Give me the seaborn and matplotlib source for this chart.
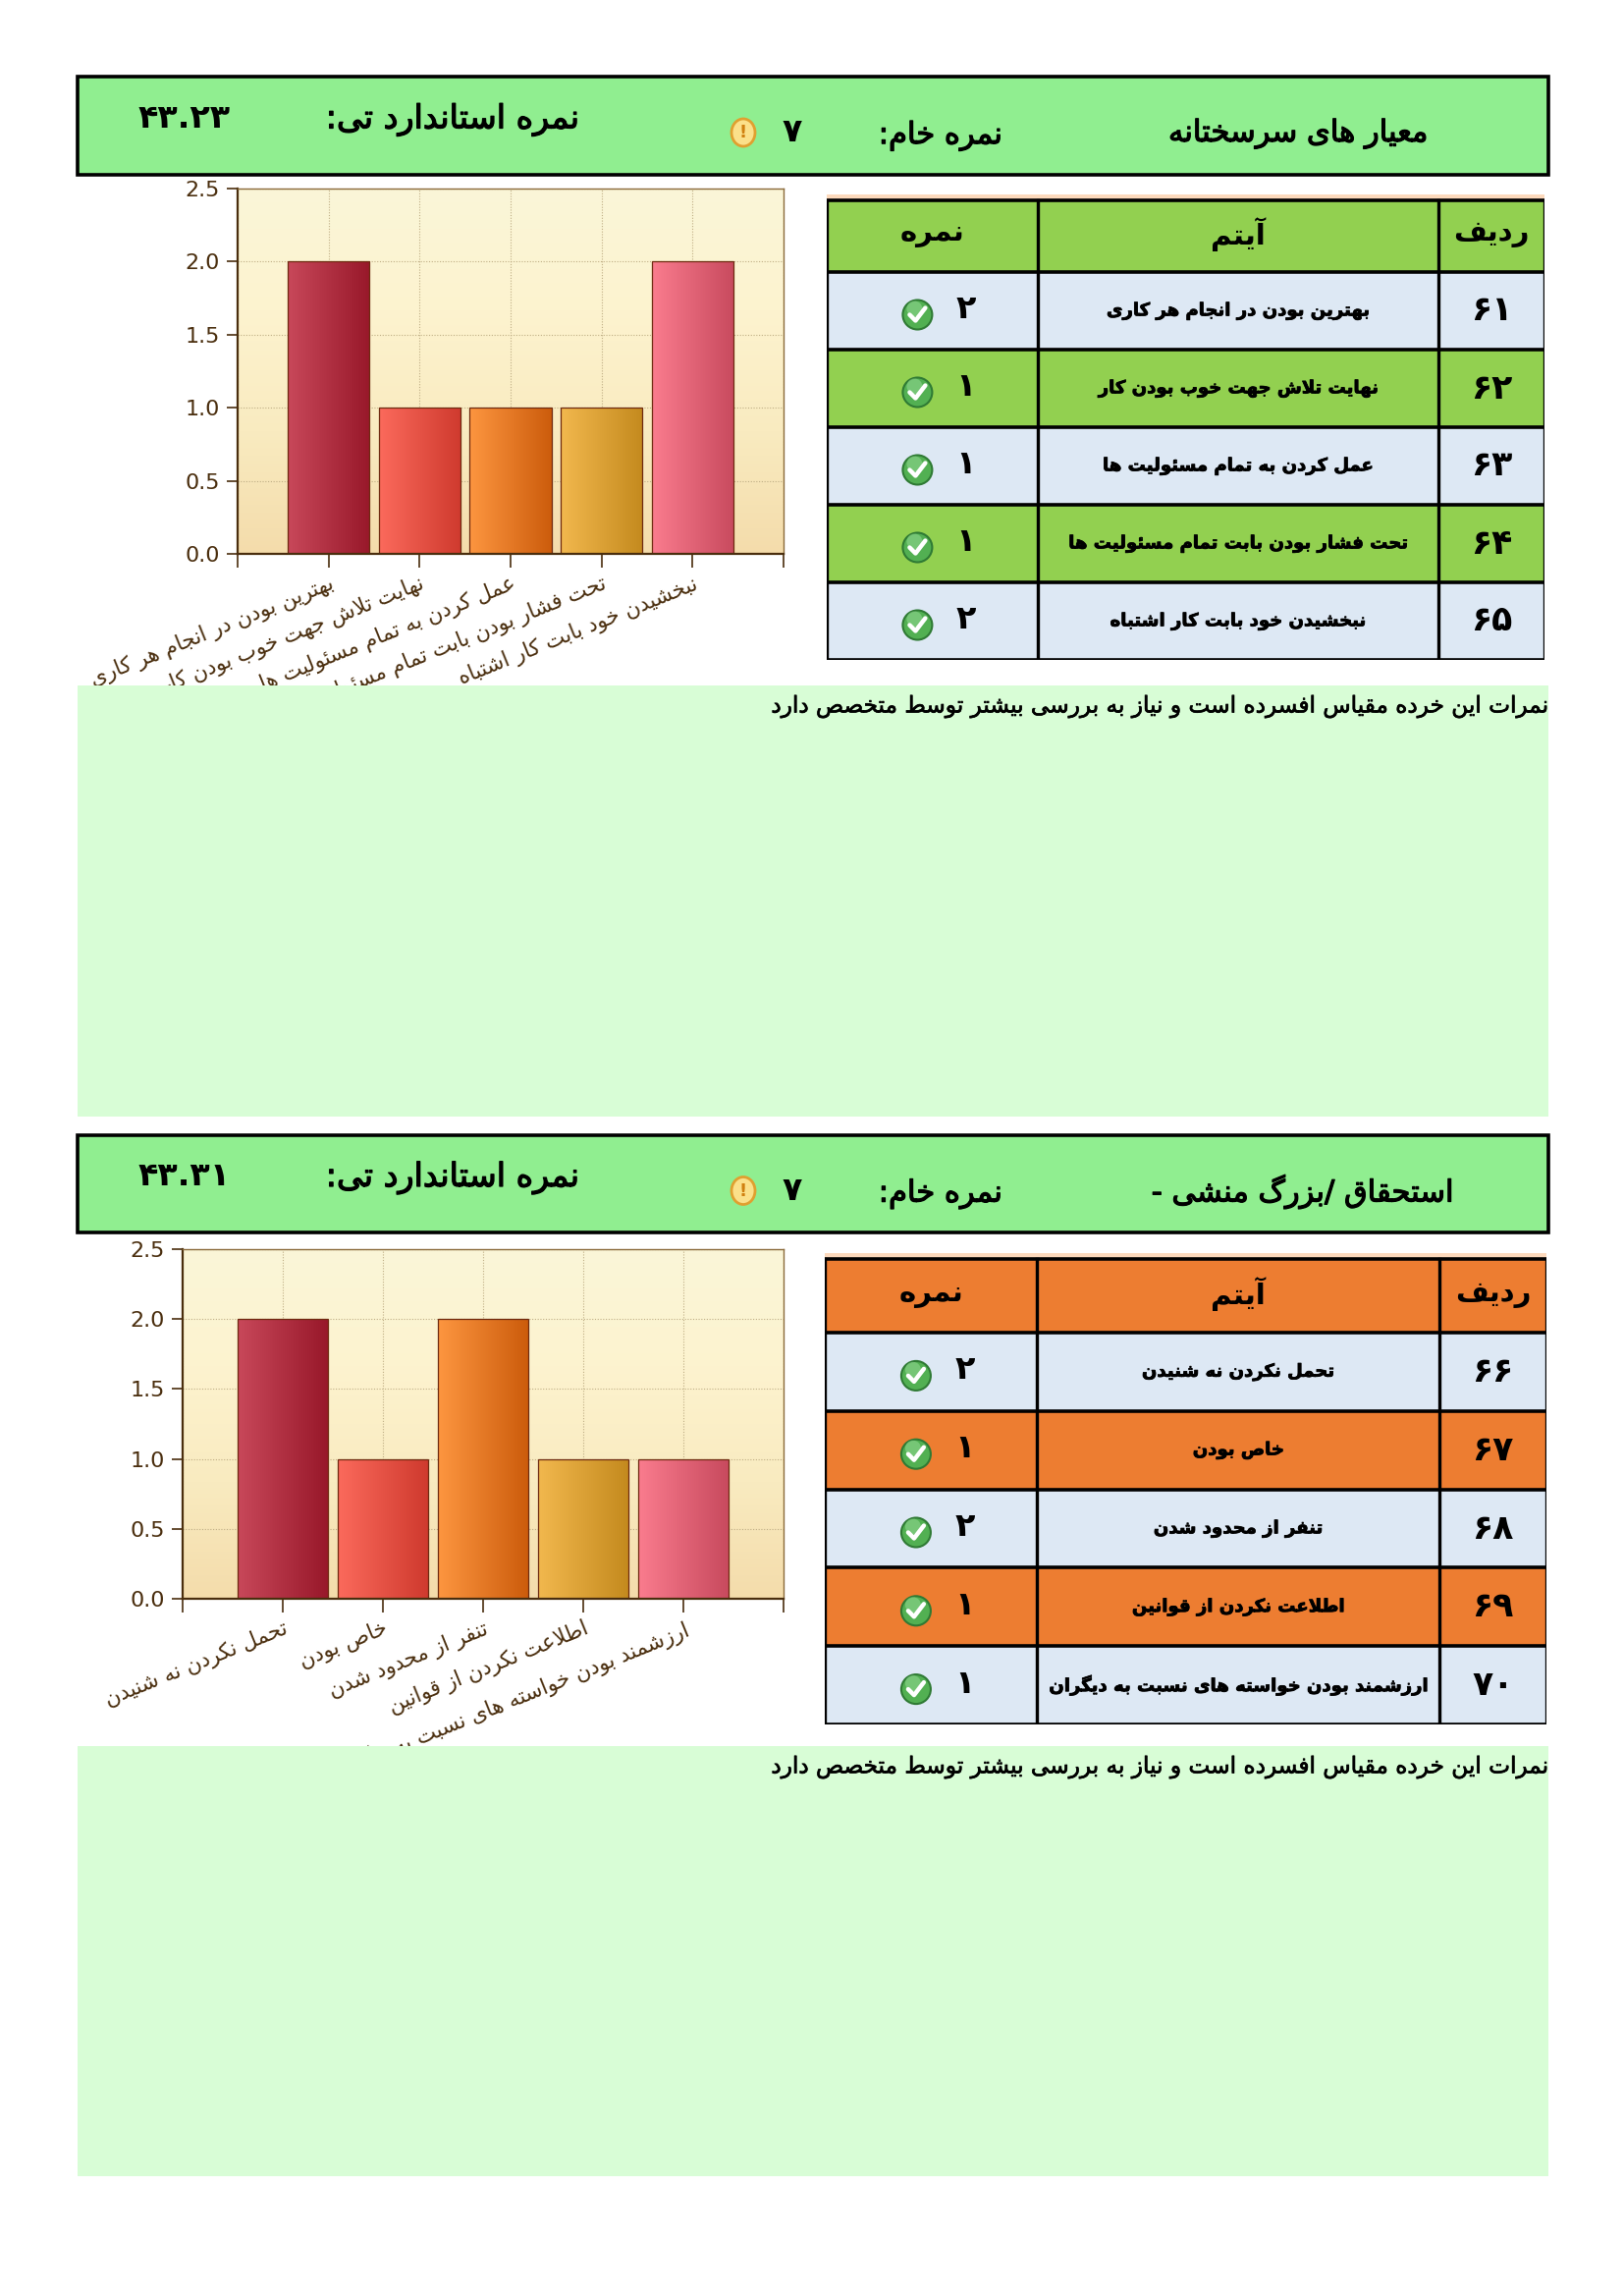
import numpy as np
import pandas as pd
import matplotlib
matplotlib.use("Agg")
import matplotlib.pyplot as plt
import matplotlib.patheffects as pe
import seaborn as sns
from matplotlib.colors import LinearSegmentedColormap
from matplotlib.patches import Rectangle, Circle, Ellipse
from matplotlib.lines import Line2D

# ---------------- data ----------------
title1 = "معیار های سرسختانه"
raw1 = "۷"
tscore1 = "۴۳.۲۳"
items1 = ["بهترین بودن در انجام هر کاری", "نهایت تلاش جهت خوب بودن کار",
          "عمل کردن به تمام مسئولیت ها", "تحت فشار بودن بابت تمام مسئولیت ها",
          "نبخشیدن خود بابت کار اشتباه"]
scores1 = [2, 1, 1, 1, 2]
rows1 = [61, 62, 63, 64, 65]

title2 = "استحقاق /بزرگ منشی -"
raw2 = "۷"
tscore2 = "۴۳.۳۱"
items2 = ["تحمل نکردن نه شنیدن", "خاص بودن", "تنفر از محدود شدن",
          "اطلاعت نکردن از قوانین", "ارزشمند بودن خواسته های نسبت به دیگران"]
scores2 = [2, 1, 2, 1, 1]
rows2 = [66, 67, 68, 69, 70]

raw_label = "نمره خام:"
t_label = "نمره استاندارد تی:"
col_headers = ["نمره", "آیتم", "ردیف"]
comment = "نمرات این خرده مقیاس افسرده است و نیاز به بررسی بیشتر توسط متخصص دارد"
yticks = [0.0, 0.5, 1.0, 1.5, 2.0, 2.5]

bar_light = ["#c8485a", "#fb6a5c", "#fd9640", "#f2b84e", "#fa7c8e"]
bar_dark = ["#98182a", "#cf3a2e", "#cc5c0c", "#c48a1e", "#c84a5e"]

# ---------------- minimal Persian shaping ----------------
FORMS = {
    'ء': ('\uFE80', None, None, None),
    'آ': ('\uFE81', '\uFE82', None, None), 'أ': ('\uFE83', '\uFE84', None, None),
    'ؤ': ('\uFE85', '\uFE86', None, None), 'إ': ('\uFE87', '\uFE88', None, None),
    'ئ': ('\uFE89', '\uFE8A', '\uFE8B', '\uFE8C'), 'ا': ('\uFE8D', '\uFE8E', None, None),
    'ب': ('\uFE8F', '\uFE90', '\uFE91', '\uFE92'), 'ة': ('\uFE93', '\uFE94', None, None),
    'ت': ('\uFE95', '\uFE96', '\uFE97', '\uFE98'), 'ث': ('\uFE99', '\uFE9A', '\uFE9B', '\uFE9C'),
    'ج': ('\uFE9D', '\uFE9E', '\uFE9F', '\uFEA0'), 'ح': ('\uFEA1', '\uFEA2', '\uFEA3', '\uFEA4'),
    'خ': ('\uFEA5', '\uFEA6', '\uFEA7', '\uFEA8'), 'د': ('\uFEA9', '\uFEAA', None, None),
    'ذ': ('\uFEAB', '\uFEAC', None, None), 'ر': ('\uFEAD', '\uFEAE', None, None),
    'ز': ('\uFEAF', '\uFEB0', None, None), 'س': ('\uFEB1', '\uFEB2', '\uFEB3', '\uFEB4'),
    'ش': ('\uFEB5', '\uFEB6', '\uFEB7', '\uFEB8'), 'ص': ('\uFEB9', '\uFEBA', '\uFEBB', '\uFEBC'),
    'ض': ('\uFEBD', '\uFEBE', '\uFEBF', '\uFEC0'), 'ط': ('\uFEC1', '\uFEC2', '\uFEC3', '\uFEC4'),
    'ظ': ('\uFEC5', '\uFEC6', '\uFEC7', '\uFEC8'), 'ع': ('\uFEC9', '\uFECA', '\uFECB', '\uFECC'),
    'غ': ('\uFECD', '\uFECE', '\uFECF', '\uFED0'), 'ف': ('\uFED1', '\uFED2', '\uFED3', '\uFED4'),
    'ق': ('\uFED5', '\uFED6', '\uFED7', '\uFED8'), 'ك': ('\uFED9', '\uFEDA', '\uFEDB', '\uFEDC'),
    'ل': ('\uFEDD', '\uFEDE', '\uFEDF', '\uFEE0'), 'م': ('\uFEE1', '\uFEE2', '\uFEE3', '\uFEE4'),
    'ن': ('\uFEE5', '\uFEE6', '\uFEE7', '\uFEE8'), 'ه': ('\uFEE9', '\uFEEA', '\uFEEB', '\uFEEC'),
    'و': ('\uFEED', '\uFEEE', None, None), 'ى': ('\uFEEF', '\uFEF0', None, None),
    'ي': ('\uFEF1', '\uFEF2', '\uFEF3', '\uFEF4'), 'پ': ('\uFB56', '\uFB57', '\uFB58', '\uFB59'),
    'چ': ('\uFB7A', '\uFB7B', '\uFB7C', '\uFB7D'), 'ژ': ('\uFB8A', '\uFB8B', None, None),
    'ک': ('\uFB8E', '\uFB8F', '\uFB90', '\uFB91'), 'گ': ('\uFB92', '\uFB93', '\uFB94', '\uFB95'),
    'ی': ('\uFBFC', '\uFBFD', '\uFBFE', '\uFBFF'),
}
LAM_ALEF = {'ا': ('\uFEFB', '\uFEFC'), 'آ': ('\uFEF5', '\uFEF6'),
            'أ': ('\uFEF7', '\uFEF8'), 'إ': ('\uFEF9', '\uFEFA')}


def _dual(u):
    t, c = u
    return t == 'C' and c in FORMS and FORMS[c][2] is not None


def _joining(u):
    t, c = u
    return t == 'LA' or (c in FORMS and FORMS[c][1] is not None)


def fa(text):
    units, i = [], 0
    while i < len(text):
        c = text[i]
        if c == 'ل' and i + 1 < len(text) and text[i + 1] in LAM_ALEF:
            units.append(('LA', text[i + 1]))
            i += 2
        else:
            units.append(('C', c))
            i += 1
    out = []
    for k, u in enumerate(units):
        prev_c = k > 0 and _dual(units[k - 1])
        nxt_j = k + 1 < len(units) and _joining(units[k + 1])
        t, c = u
        if t == 'LA':
            iso, fin = LAM_ALEF[c]
            out.append(fin if prev_c else iso)
        elif c in FORMS:
            iso, fin, ini, med = FORMS[c]
            if fin is None:
                out.append(iso)
                continue
            can_next = ini is not None and nxt_j
            if prev_c and can_next:
                out.append(med)
            elif prev_c:
                out.append(fin)
            elif can_next:
                out.append(ini)
            else:
                out.append(iso)
        elif c != '\u200c':
            out.append(c)
    return ''.join(out)[::-1]


FA_DIG = str.maketrans("0123456789", "۰۱۲۳۴۵۶۷۸۹")


def fa_num(n):
    return str(n).translate(FA_DIG)


# ---------------- figure ----------------
W, H = 1654, 2338
fig = plt.figure(figsize=(W / 100, H / 100), dpi=100)
fig.patch.set_facecolor("white")
FONT = ["DejaVu Sans"]
BROWN = "#4a2e0e"
THICK = [pe.withStroke(linewidth=0.9, foreground="black")]


def px_axes(x0, y0, x1, y1, **kw):
    return fig.add_axes([x0 / W, 1 - y1 / H, (x1 - x0) / W, (y1 - y0) / H], **kw)


bg_cmap = LinearSegmentedColormap.from_list("bg", ["#faf6d8", "#fdf3cf", "#f9ebc0", "#f4dcab"])


def draw_chart(rect, items, scores):
    ax = px_axes(*rect)
    df = pd.DataFrame({"item": items, "score": scores})
    sns.barplot(data=df, x="item", y="score", hue="item", order=items, hue_order=items,
                palette=bar_light, legend=False, width=0.9, ax=ax, saturation=1,
                edgecolor="#6e2a10", linewidth=0.9)
    ax.set_xlim(-1, 5)
    ax.set_ylim(0, 2.5)
    # background gradient (light at top, tan at bottom)
    grad = np.linspace(0, 1, 256).reshape(-1, 1)
    ax.imshow(grad, extent=(-1, 5, 0, 2.5), cmap=bg_cmap, aspect="auto",
              origin="upper", zorder=-2)
    # gradient bars
    hgrad = np.linspace(0, 1, 256).reshape(1, -1)
    for i, p in enumerate(ax.patches):
        x0, w, h = p.get_x(), p.get_width(), p.get_height()
        cm = LinearSegmentedColormap.from_list(f"b{i}", [bar_light[i], bar_dark[i]])
        im = ax.imshow(hgrad, extent=(x0, x0 + w, 0, h), cmap=cm, aspect="auto",
                       zorder=1.5)
        im.set_clip_path(p)
        p.set_facecolor("none")
        p.set_zorder(2)
    ax.set_xlim(-1, 5)
    ax.set_ylim(0, 2.5)
    ax.set_xticks(range(-1, 6))
    ax.set_xticklabels([""] + [fa(t) for t in items] + [""], rotation=22,
                       ha="right", rotation_mode="anchor", fontsize=15.5,
                       color=BROWN, family=FONT)
    ax.set_yticks(yticks)
    ax.set_yticklabels([f"{v:.1f}" for v in yticks], fontsize=16, color=BROWN, family=FONT)
    ax.tick_params(axis="y", length=8, width=1.2, color=BROWN, pad=5)
    ax.tick_params(axis="x", length=10, width=1.2, color=BROWN, pad=4)
    ax.set_axisbelow(True)
    ax.grid(True, linestyle=(0, (1, 1.5)), color="#bfae85", linewidth=0.8, zorder=0.5)
    for s in ["left", "bottom"]:
        ax.spines[s].set_color(BROWN)
        ax.spines[s].set_linewidth(1.6)
    for s in ["top", "right"]:
        ax.spines[s].set_color("#8a6a3a")
        ax.spines[s].set_linewidth(1.0)
    ax.set_xlabel("")
    ax.set_ylabel("")
    return ax


def draw_table(rect, head_h, items, scores, rows, head_color, alt_color):
    x0, y0, x1, y1 = rect
    ax = px_axes(x0, y0 - 6, x1, y1)
    w, h = x1 - x0, y1 - y0
    ax.set_xlim(0, w)
    ax.set_ylim(h, -6)
    ax.axis("off")
    cols = [0, 0.294 * w, 0.852 * w, w]
    row_h = (h - head_h) / len(items)
    ax.add_patch(Rectangle((0, -6), w, 6, facecolor="#fcd9bc", edgecolor="none"))
    ax.add_patch(Rectangle((0, 0), w, head_h, facecolor=head_color, edgecolor="none"))
    for i in range(len(items)):
        fc = "#dde8f4" if i % 2 == 0 else alt_color
        ax.add_patch(Rectangle((0, head_h + i * row_h), w, row_h, facecolor=fc,
                               edgecolor="none"))
    # grid lines
    for yy in [head_h] + [head_h + (i + 1) * row_h for i in range(len(items))]:
        ax.add_line(Line2D([0, w], [yy, yy], color="black", lw=2.6))
    for xx in cols:
        ax.add_line(Line2D([xx, xx], [0, h], color="black", lw=2.4))
    centers = [(cols[0] + cols[1]) / 2, (cols[1] + cols[2]) / 2, (cols[2] + cols[3]) / 2]
    for c, t in zip(centers, col_headers):
        ax.text(c, head_h / 2 - 2, fa(t), ha="center", va="center", fontsize=21,
                fontweight="bold", family=FONT, color="black")
    for i, (it, sc, rn) in enumerate(zip(items, scores, rows)):
        yc = head_h + (i + 0.5) * row_h
        ax.text(centers[1], yc, fa(it), ha="center", va="center", fontsize=13,
                fontweight="bold", family=FONT, color="black",
                path_effects=[pe.withStroke(linewidth=0.6, foreground="black")])
        ax.text(centers[2], yc, fa_num(rn), ha="center", va="center", fontsize=25,
                fontweight="bold", family=FONT, color="black")
        ax.text(cols[0] + 0.66 * (cols[1] - cols[0]), yc - 2, fa_num(sc), ha="center",
                va="center", fontsize=24, fontweight="bold", family=FONT, color="black")
        cx = cols[0] + 0.43 * (cols[1] - cols[0])
        ax.add_patch(Circle((cx, yc + 4), 15, facecolor="#52b052", edgecolor="#2f7a34",
                            lw=1.5, zorder=3))
        ax.add_patch(Circle((cx - 3, yc - 2), 8, facecolor="#8fd68f", edgecolor="none",
                            alpha=0.6, zorder=3))
        ax.add_line(Line2D([cx - 8, cx - 2, cx + 8], [yc + 4, yc + 10, yc - 3],
                           color="white", lw=3.2, zorder=4, solid_capstyle="round"))
    ax.add_line(Line2D([0, w], [0, 0], color="black", lw=2.6))
    return ax


# charts
draw_chart((242, 192, 798, 564), items1, scores1)
draw_chart((186, 1272, 798, 1628), items2, scores2)

# tables
draw_table((842, 204, 1573, 672), 73, items1, scores1, rows1, "#92d050", "#92d050")
draw_table((840, 1282, 1575, 1756), 75, items2, scores2, rows2, "#ed7d31", "#ed7d31")

# overlay: header boxes and comment boxes
ov = px_axes(0, 0, W, H)
ov.set_xlim(0, W)
ov.set_ylim(H, 0)
ov.axis("off")
ov.set_zorder(10)


def header(y0, y1, title, title_right, raw, tscore):
    ov.add_patch(Rectangle((79, y0), 1577 - 79, y1 - y0, facecolor="#90ee90",
                           edgecolor="black", lw=2.6))
    yc = (y0 + y1) / 2
    ov.text(title_right, yc + 8, fa(title), ha="right", va="center", fontsize=22,
            family=FONT, color="black", path_effects=THICK)
    ov.text(1021, yc + 10, fa(raw_label), ha="right", va="center", fontsize=22,
            family=FONT, color="black", path_effects=THICK)
    ov.text(807, yc + 7, raw, ha="center", va="center", fontsize=24,
            fontweight="bold", family=FONT, color="black")
    ov.add_patch(Ellipse((757, yc + 7), 24, 28, facecolor="#fbe08a",
                         edgecolor="#e0a030", lw=2))
    ov.text(757, yc + 7, "!", ha="center", va="center", fontsize=13,
            fontweight="bold", family=FONT, color="#d08010")
    ov.text(591, yc - 6, fa(t_label), ha="right", va="center", fontsize=24,
            family=FONT, color="black", path_effects=THICK)
    ov.text(188, yc - 8, tscore, ha="center", va="center", fontsize=24,
            fontweight="bold", family=FONT, color="black")


def comment_box(y0, y1):
    ov.add_patch(Rectangle((79, y0), 1577 - 79, y1 - y0, facecolor="#d8fdd6",
                           edgecolor="none"))
    ov.text(1574, y0 + 22, fa(comment), ha="right", va="center", fontsize=16.7,
            family=FONT, color="black", path_effects=[pe.withStroke(linewidth=0.5, foreground="black")])


header(78, 178, title1, 1454, raw1, tscore1)
header(1156, 1255, title2, 1480, raw2, tscore2)
comment_box(698, 1137)
comment_box(1778, 2216)

fig.savefig("out.png", dpi=100, facecolor="white")
